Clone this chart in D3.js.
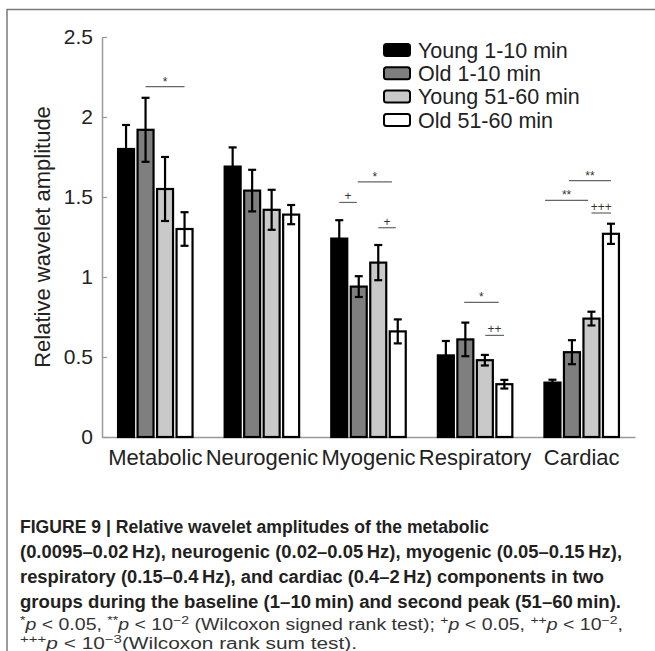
<!DOCTYPE html>
<html>
<head>
<meta charset="utf-8">
<script src="https://cdn.jsdelivr.net/npm/d3@7"></script>
<style>
  html, body { margin: 0; padding: 0; background: #fff; }
  svg { display: block; }
  text { font-family: "Liberation Sans", Arial, Helvetica, sans-serif; }
</style>
</head>
<body>
<svg id="fig" width="655" height="651"></svg>
<script>
// Frequency bands on the x axis
const categories = ["Metabolic", "Neurogenic", "Myogenic", "Respiratory", "Cardiac"];

// Groups / time windows
const seriesNames = ["Young 1-10 min", "Old 1-10 min", "Young 51-60 min", "Old 51-60 min"];
const seriesFill = ["#000000", "#7f7f7f", "#c9c9c9", "#ffffff"];

// Mean relative wavelet amplitude and error (one value per band)
const youngBaseline    = [1.80, 1.69, 1.24, 0.51, 0.34];
const youngBaselineErr = [0.15, 0.12, 0.115, 0.09, 0.018];
const oldBaseline      = [1.92, 1.54, 0.94, 0.61, 0.53];
const oldBaselineErr   = [0.20, 0.13, 0.065, 0.105, 0.075];
const youngPeak        = [1.55, 1.42, 1.09, 0.48, 0.74];
const youngPeakErr     = [0.20, 0.125, 0.11, 0.033, 0.043];
const oldPeak          = [1.30, 1.39, 0.66, 0.33, 1.27];
const oldPeakErr       = [0.105, 0.06, 0.075, 0.027, 0.063];

const yTicks = [0, 0.5, 1, 1.5, 2, 2.5];
const yTickLabels = ["0", "0.5", "1", "1.5", "2", "2.5"];

// Significance brackets: band, bar span (bar index units), height, marker
const sigCats   = ["Metabolic", "Myogenic", "Myogenic", "Myogenic", "Respiratory", "Respiratory", "Cardiac", "Cardiac", "Cardiac"];
const sigFrom   = [1, 0, 0.95, 2, 0.94, 2.02, -0.38, 0.85, 2];
const sigTo     = [3, 0.9, 2.7, 2.9, 2.71, 2.98, 1.83, 3, 3];
const sigLevel  = [2.19, 1.466, 1.594, 1.308, 0.841, 0.635, 1.479, 1.602, 1.40];
const sigLabels = ["*", "+", "*", "+", "*", "++", "**", "**", "+++"];

const captionBold = [
  "FIGURE 9 | Relative wavelet amplitudes of the metabolic",
  "(0.0095\u20130.02\u2009Hz), neurogenic (0.02\u20130.05\u2009Hz), myogenic (0.05\u20130.15\u2009Hz),",
  "respiratory (0.15\u20130.4\u2009Hz), and cardiac (0.4\u20132\u2009Hz) components in two",
  "groups during the baseline (1\u201310\u2009min) and second peak (51\u201360\u2009min)."
];
const captionNotes = [
  [{t: "*", sup: 1}, {t: "p", it: 1}, {t: " < 0.05, "}, {t: "**", sup: 1}, {t: "p", it: 1}, {t: " < 10"}, {t: "\u22122", sup: 1},
   {t: " (Wilcoxon signed rank test); "}, {t: "+", sup: 1}, {t: "p", it: 1}, {t: " < 0.05, "}, {t: "++", sup: 1}, {t: "p", it: 1},
   {t: " < 10"}, {t: "\u22122", sup: 1}, {t: ","}],
  [{t: "+++", sup: 1}, {t: "p", it: 1}, {t: " < 10"}, {t: "\u22123", sup: 1}, {t: "(Wilcoxon rank sum test)."}]
];

const seriesValues = [youngBaseline, oldBaseline, youngPeak, oldPeak];
const seriesErrors = [youngBaselineErr, oldBaselineErr, youngPeakErr, oldPeakErr];

const svg = d3.select("#fig");

// panel frame (top and left edges of the figure box)
svg.append("path")
  .attr("d", "M7,651 V9.5 H655")
  .attr("fill", "none").attr("stroke", "#7a7a7a").attr("stroke-width", 1.5);

const plot = {left: 102, right: 635, top: 37, bottom: 437};

const x0 = d3.scaleBand().domain(categories).range([plot.left, plot.right]).padding(0);
const groupWidth = 78;
const x1 = d3.scaleBand().domain(seriesNames).range([0, groupWidth]).paddingInner(0.18).paddingOuter(0.09);
const groupOffset = (x0.bandwidth() - groupWidth) / 2;
const y = d3.scaleLinear().domain([0, 2.5]).range([plot.bottom, plot.top]);

const barCenter = (cat, idx) =>
  x0(cat) + groupOffset + x1(seriesNames[0]) + x1.bandwidth() / 2 + idx * x1.step();

// y axis
const yAxis = d3.axisLeft(y).tickValues(yTicks).tickFormat((d, i) => yTickLabels[i])
  .tickSizeInner(-5).tickSizeOuter(0).tickPadding(9);
const yg = svg.append("g").attr("transform", `translate(${plot.left},0)`).call(yAxis);
yg.select(".domain").attr("stroke", "#9a9a9a").attr("stroke-width", 1.5);
yg.selectAll(".tick line").attr("stroke", "#9a9a9a").attr("stroke-width", 1.2);
yg.selectAll(".tick text").attr("font-size", 21).attr("fill", "#222")
  .attr("font-family", "'Liberation Sans', Arial, sans-serif");

// x axis
const xAxis = d3.axisBottom(x0).tickSize(0).tickPadding(12);
const xg = svg.append("g").attr("transform", `translate(0,${plot.bottom})`).call(xAxis);
xg.select(".domain").attr("stroke", "#9a9a9a").attr("stroke-width", 1.5);
xg.selectAll(".tick text").attr("font-size", 22).attr("fill", "#222")
  .attr("font-family", "'Liberation Sans', Arial, sans-serif");

// y label
svg.append("text")
  .attr("transform", `translate(50,${(plot.top + plot.bottom) / 2}) rotate(-90)`)
  .attr("text-anchor", "middle").attr("font-size", 22).attr("fill", "#222")
  .text("Relative wavelet amplitude");

// bars
const groups = svg.append("g").selectAll("g").data(categories).join("g")
  .attr("transform", c => `translate(${x0(c) + groupOffset},0)`);

groups.selectAll("rect").data((c, ci) => seriesNames.map((s, si) => ({s, si, v: seriesValues[si][ci]})))
  .join("rect")
  .attr("x", d => x1(d.s))
  .attr("width", x1.bandwidth())
  .attr("y", d => y(d.v))
  .attr("height", d => y(0) - y(d.v))
  .attr("fill", d => seriesFill[d.si])
  .attr("stroke", "#000").attr("stroke-width", 2.2);

// error bars
const capHalf = 4;
const errData = groups.selectAll("g.err").data((c, ci) => seriesNames.map((s, si) => ({
  s, si, v: seriesValues[si][ci], e: seriesErrors[si][ci]
}))).join("g").attr("class", "err")
  .attr("transform", d => `translate(${x1(d.s) + x1.bandwidth() / 2},0)`)
  .attr("stroke", "#000").attr("stroke-width", 2.2);
errData.append("line").attr("y1", d => y(d.v - d.e)).attr("y2", d => y(d.v + d.e));
errData.append("line").attr("x1", -capHalf).attr("x2", capHalf).attr("y1", d => y(d.v + d.e)).attr("y2", d => y(d.v + d.e));
errData.append("line").attr("x1", -capHalf).attr("x2", capHalf).attr("y1", d => y(d.v - d.e)).attr("y2", d => y(d.v - d.e));

// significance brackets
const sig = sigCats.map((c, i) => ({c, from: sigFrom[i], to: sigTo[i], level: sigLevel[i], label: sigLabels[i]}));
const sg = svg.append("g").selectAll("g").data(sig).join("g");
sg.append("line")
  .attr("x1", d => barCenter(d.c, d.from)).attr("x2", d => barCenter(d.c, d.to))
  .attr("y1", d => y(d.level)).attr("y2", d => y(d.level))
  .attr("stroke", "#666").attr("stroke-width", 1.2);
sg.append("text")
  .attr("x", d => (barCenter(d.c, d.from) + barCenter(d.c, d.to)) / 2)
  .attr("y", d => y(d.level) - (d.label.includes("*") ? 1 : 2))
  .attr("text-anchor", "middle").attr("font-size", 12).attr("fill", "#333")
  .text(d => d.label);

// legend
const legend = svg.append("g").attr("transform", "translate(383,50)");
const li = legend.selectAll("g").data(seriesNames).join("g")
  .attr("transform", (d, i) => `translate(0,${i * 23.3})`);
li.append("rect").attr("x", 1).attr("y", -6).attr("width", 26).attr("height", 12).attr("rx", 2.5)
  .attr("fill", (d, i) => seriesFill[i]).attr("stroke", "#000").attr("stroke-width", 2);
li.append("text").attr("x", 35).attr("dy", "0.36em").attr("font-size", 21.5).attr("fill", "#222")
  .text(d => d);

// caption
const boldBase = [533, 558, 583, 608];
const boldWidth = [469, 602, 584, 601];
captionBold.forEach((line, i) => {
  svg.append("text").attr("x", 20).attr("y", boldBase[i])
    .attr("font-size", 17.5).attr("font-weight", "bold").attr("fill", "#231f20")
    .attr("textLength", boldWidth[i]).attr("lengthAdjust", "spacingAndGlyphs")
    .text(line);
});

const noteBase = [630, 649];
const noteWidth = [603, 337];
captionNotes.forEach((segs, i) => {
  const fs = 16;
  const t = svg.append("text").attr("x", 20).attr("y", noteBase[i])
    .attr("font-size", fs).attr("fill", "#333");
  let raised = false;
  segs.forEach(s => {
    const ts = t.append("tspan").text(s.t);
    if (s.sup) {
      ts.attr("font-size", fs * 0.72);
      if (!raised) { ts.attr("dy", -6); raised = true; }
    } else if (raised) {
      ts.attr("dy", 6); raised = false;
    }
    if (s.it) ts.attr("font-style", "italic");
  });
  t.attr("textLength", noteWidth[i]).attr("lengthAdjust", "spacingAndGlyphs");
});
</script>
</body>
</html>
